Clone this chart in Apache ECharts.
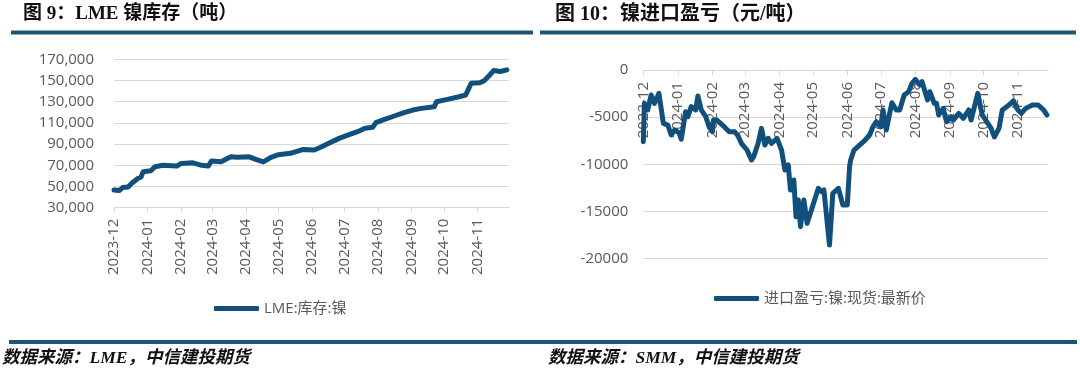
<!DOCTYPE html>
<html>
<head>
<meta charset="utf-8">
<script src="https://cdn.jsdelivr.net/npm/echarts@6/dist/echarts.min.js"></script>
<style>
html, body { margin: 0; padding: 0; background: #fff; }
#main { width: 1080px; height: 375px; }
</style>
</head>
<body>
<div id="main"></div>
<script>
// 图9 LME 镍库存（吨）
const stockDates = ['2023-12-01', '2023-12-06', '2023-12-09', '2023-12-14', '2023-12-18', '2023-12-23', '2023-12-26', '2023-12-28',
  '2024-01-04', '2024-01-08', '2024-01-15', '2024-01-28', '2024-02-01', '2024-02-12', '2024-02-20', '2024-02-26', '2024-02-29',
  '2024-03-09', '2024-03-12', '2024-03-18', '2024-03-24', '2024-04-04', '2024-04-10', '2024-04-17', '2024-04-24',
  '2024-05-01', '2024-05-12', '2024-05-18', '2024-05-24', '2024-06-03', '2024-06-09', '2024-06-15', '2024-06-26',
  '2024-07-04', '2024-07-13', '2024-07-20', '2024-07-27', '2024-07-30', '2024-08-07', '2024-08-16', '2024-08-25',
  '2024-09-02', '2024-09-10', '2024-09-22', '2024-09-24', '2024-10-04', '2024-10-15', '2024-10-21', '2024-10-26',
  '2024-11-03', '2024-11-07', '2024-11-12', '2024-11-16', '2024-11-22', '2024-11-28']
const stockValues = [46700, 46200, 49000, 49600, 53500, 57500, 59000, 64000,
  64900, 68700, 70000, 69300, 71800, 72300, 70000, 69300, 74000,
  73400, 75000, 78000, 77500, 78000, 75600, 73200, 77500,
  80000, 81300, 83200, 85000, 84400, 87000, 90000, 95400,
  98500, 101700, 104900, 105800, 110200, 113300, 116500, 119600,
  122100, 123700, 125200, 130000, 132200, 134700, 136300, 147300,
  147900, 149800, 155000, 159500, 158500, 160000]

// 图10 镍进口盈亏（元/吨）
const profitDates = ['2023-12-01', '2023-12-02', '2023-12-05', '2023-12-08', '2023-12-11', '2023-12-15', '2023-12-19', '2023-12-23',
  '2023-12-26', '2023-12-29', '2024-01-02', '2024-01-04', '2024-01-08', '2024-01-10', '2024-01-13', '2024-01-17', '2024-01-19',
  '2024-01-22', '2024-01-26', '2024-01-29', '2024-02-01', '2024-02-02', '2024-02-05', '2024-02-10', '2024-02-16', '2024-02-21',
  '2024-02-24', '2024-02-27', '2024-03-03', '2024-03-07', '2024-03-09', '2024-03-13', '2024-03-16', '2024-03-19', '2024-03-22',
  '2024-03-25', '2024-03-30', '2024-04-03', '2024-04-06', '2024-04-09', '2024-04-11', '2024-04-14', '2024-04-16', '2024-04-18',
  '2024-04-20', '2024-04-23', '2024-04-26', '2024-05-06', '2024-05-09', '2024-05-11', '2024-05-16', '2024-05-19', '2024-05-24',
  '2024-05-28', '2024-06-01', '2024-06-03', '2024-06-04', '2024-06-07', '2024-06-12', '2024-06-17', '2024-06-21', '2024-06-24',
  '2024-06-27', '2024-07-01', '2024-07-03', '2024-07-06', '2024-07-09', '2024-07-11', '2024-07-15', '2024-07-18', '2024-07-22',
  '2024-07-26', '2024-07-29', '2024-08-01', '2024-08-05', '2024-08-07', '2024-08-12', '2024-08-14', '2024-08-18', '2024-08-20',
  '2024-08-22', '2024-08-26', '2024-08-29', '2024-09-02', '2024-09-04', '2024-09-09', '2024-09-13', '2024-09-18', '2024-09-20',
  '2024-09-26', '2024-09-30', '2024-10-08', '2024-10-09', '2024-10-11', '2024-10-15', '2024-10-18', '2024-10-24', '2024-10-28',
  '2024-11-01', '2024-11-04', '2024-11-08', '2024-11-14', '2024-11-19', '2024-11-24', '2024-11-27']
const profitValues = [-7600, -3540, -4240, -2650, -3540, -2480, -5660, -5840,
  -6900, -6370, -6650, -7350, -4420, -4950, -3890, -4240, -2760,
  -4240, -4950, -6020, -6550, -5310, -5310, -5840, -6550, -6550,
  -7000, -7780, -8490, -9550, -9200, -7780, -6190, -7960, -7250,
  -7780, -7250, -8490, -10610, -10080, -12730, -11670, -15570, -13790,
  -16620, -13790, -16270, -12550, -12910, -12730, -18570, -13080, -12550,
  -14320, -14320, -10260, -9550, -8490, -7960, -7430, -6900, -6020,
  -5490, -6020, -4240, -6370, -4600, -3470, -4240, -4240, -2650,
  -2300, -1410, -990, -1590, -1240, -3180, -2300, -3540, -3540,
  -4770, -4070, -5490, -4950, -5310, -4600, -5130, -4240, -5310,
  -2480, -4770, -6190, -6550, -7100, -6190, -4240, -3710, -3260,
  -4240, -4600, -4070, -3710, -3710, -4240, -4770]

const lineColor = '#11507C'
const barColor = '#1D5473'
const axisColor = '#d9d9d9'
const labelColor = '#595959'
const labelFont = '"Open Sans", "Noto Sans CJK SC", sans-serif'
const titleFont = '"Liberation Serif", "Noto Sans CJK SC", serif'

const chart = echarts.init(document.getElementById('main'))

function withComma (val) {
  return String(val).replace(/\B(?=(\d{3})+(?!\d))/g, ',')
}

function timeAxis (gridIndex, max, margin, offset) {
  return {
    type: 'time',
    gridIndex: gridIndex,
    position: 'bottom',
    offset: offset,
    min: '2023-12-01',
    max: max,
    splitNumber: 12,
    axisLine: { onZero: false, lineStyle: { color: axisColor, width: 1 } },
    axisTick: { show: true, length: 5, lineStyle: { color: axisColor } },
    axisLabel: {
      rotate: 90,
      margin: margin,
      fontSize: 15,
      color: labelColor,
      fontFamily: labelFont,
      showMinLabel: true,
      formatter: '{yyyy}-{MM}'
    },
    splitLine: { show: false }
  }
}

const option = {
  animation: false,
  backgroundColor: '#fff',
  title: [
    {
      text: '图 9：LME 镍库存（吨）',
      left: 23,
      top: 5,
      padding: 0,
      textStyle: { fontSize: 19, fontWeight: 'bold', color: '#111', fontFamily: titleFont }
    },
    {
      text: '图 10：镍进口盈亏（元/吨）',
      left: 555,
      top: 5,
      padding: 0,
      textStyle: { fontSize: 20, fontWeight: 'bold', color: '#111', fontFamily: titleFont }
    },
    {
      text: '数据来源：LME，中信建投期货',
      left: 2,
      top: 350,
      padding: 0,
      textStyle: { fontSize: 17.5, fontWeight: 'bold', fontStyle: 'italic', color: '#111', fontFamily: titleFont }
    },
    {
      text: '数据来源：SMM，中信建投期货',
      left: 548,
      top: 350,
      padding: 0,
      textStyle: { fontSize: 17.5, fontWeight: 'bold', fontStyle: 'italic', color: '#111', fontFamily: titleFont }
    }
  ],
  graphic: [
    { type: 'rect', shape: { x: 11, y: 30.5, width: 522, height: 4 }, style: { fill: barColor } },
    { type: 'rect', shape: { x: 540, y: 30.5, width: 536, height: 4 }, style: { fill: barColor } },
    { type: 'rect', shape: { x: 9, y: 340, width: 1068, height: 4 }, style: { fill: barColor } }
  ],
  legend: [
    {
      data: ['LME:库存:镍'],
      left: 214,
      top: 301,
      padding: 0,
      icon: 'roundRect',
      itemWidth: 45,
      itemHeight: 5,
      textStyle: { fontSize: 15, color: labelColor, fontFamily: labelFont }
    },
    {
      data: ['进口盈亏:镍:现货:最新价'],
      left: 714,
      top: 291,
      padding: 0,
      icon: 'roundRect',
      itemWidth: 45,
      itemHeight: 5,
      textStyle: { fontSize: 15, color: labelColor, fontFamily: labelFont }
    }
  ],
  grid: [
    { left: 114, top: 59.3, width: 395, height: 148.4, outerBoundsMode: 'none' },
    { left: 643.3, top: 70, width: 404.7, height: 188.5, outerBoundsMode: 'none' }
  ],
  xAxis: [
    timeAxis(0, '2024-11-30', 11, 0),
    // 盈亏轴在0处（顶部），标签向下落在图内
    timeAxis(1, '2024-11-28', 12, -188.5)
  ],
  yAxis: [
    {
      type: 'value',
      gridIndex: 0,
      min: 30000,
      max: 170000,
      interval: 20000,
      axisLine: { show: false },
      axisTick: { show: false },
      axisLabel: { margin: 20, fontSize: 15, color: labelColor, fontFamily: labelFont, formatter: withComma },
      splitLine: { lineStyle: { color: axisColor, width: 1 } }
    },
    {
      type: 'value',
      gridIndex: 1,
      min: -20000,
      max: 0,
      interval: 5000,
      axisLine: { show: false },
      axisTick: { show: false },
      axisLabel: { margin: 15, fontSize: 15, color: labelColor, fontFamily: labelFont, formatter: v => String(v) },
      splitLine: { lineStyle: { color: axisColor, width: 1 } }
    }
  ],
  series: [
    {
      name: 'LME:库存:镍',
      type: 'line',
      xAxisIndex: 0,
      yAxisIndex: 0,
      showSymbol: false,
      color: lineColor,
      lineStyle: { width: 5, color: lineColor, join: 'round', cap: 'round' },
      data: stockDates.map((d, i) => [d, stockValues[i]])
    },
    {
      name: '进口盈亏:镍:现货:最新价',
      type: 'line',
      xAxisIndex: 1,
      yAxisIndex: 1,
      showSymbol: false,
      color: lineColor,
      lineStyle: { width: 5, color: lineColor, join: 'round', cap: 'round' },
      data: profitDates.map((d, i) => [d, profitValues[i]])
    }
  ]
}

chart.setOption(option)
</script>
</body>
</html>
